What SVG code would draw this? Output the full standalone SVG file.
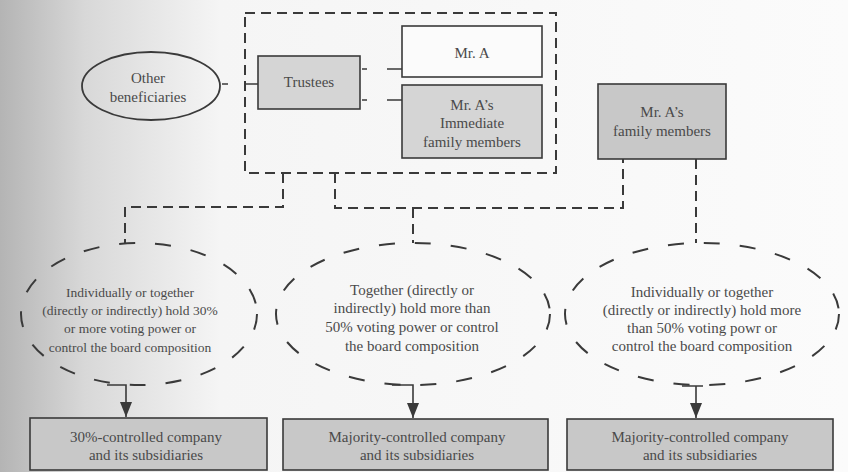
<svg xmlns="http://www.w3.org/2000/svg" width="848" height="472" viewBox="0 0 848 472">
  <defs>
    <linearGradient id="bg" x1="0" y1="0" x2="1" y2="0">
      <stop offset="0" stop-color="#b4b4b4"/>
      <stop offset="0.1" stop-color="#d8d8d8"/>
      <stop offset="0.26" stop-color="#f5f5f5"/>
      <stop offset="1" stop-color="#fbfbfb"/>
    </linearGradient>
    <marker id="arr" viewBox="0 0 15 12" refX="15" refY="6" markerWidth="15" markerHeight="12" markerUnits="userSpaceOnUse" orient="auto">
      <path d="M0,0 L15,6 L0,12 z" fill="#3a3a3a"/>
    </marker>
    <style>
      text { font-family: "Liberation Serif", "DejaVu Serif", serif; font-size: 15px; fill: #4a4a4a; text-anchor: middle; }
      .small { font-size: 13.5px; }
      .box { stroke: #3a3a3a; stroke-width: 1.6; }
      .grey { fill: #d5d5d5; }
      .dark { fill: #c8c8c8; }
      .white { fill: #fbfbfb; }
      .dash { fill: none; stroke: #3a3a3a; stroke-width: 2; stroke-dasharray: 10 6; }
      .oval { fill: none; stroke: #3a3a3a; stroke-width: 2; stroke-dasharray: 16 20; }
      .solid { fill: none; stroke: #3a3a3a; stroke-width: 1.6; }
    </style>
  </defs>

  <rect x="0" y="0" width="848" height="472" fill="url(#bg)"/>

  <g id="trust-group">
    <rect x="245" y="13" width="311" height="160" class="dash"/>
  </g>

  <g id="other-beneficiaries">
    <ellipse cx="151" cy="86" rx="69" ry="34" fill="none" stroke="#3a3a3a" stroke-width="1.8"/>
    <text x="148" y="83" font-family="Liberation Serif, serif">Other</text>
    <text x="148" y="102" font-family="Liberation Serif, serif">beneficiaries</text>
  </g>

  <g id="trustees">
    <rect x="258" y="56" width="102" height="53" class="box grey"/>
    <text x="309" y="87">Trustees</text>
  </g>

  <g id="mr-a">
    <rect x="402" y="26" width="140" height="51" class="box white"/>
    <text x="472" y="58">Mr. A</text>
  </g>

  <g id="mr-a-immediate-family">
    <rect x="402" y="85" width="140" height="73" class="box grey"/>
    <text x="472" y="110">Mr. A’s</text>
    <text x="472" y="128">Immediate</text>
    <text x="472" y="147">family members</text>
  </g>

  <g id="mr-a-family-members">
    <rect x="598" y="84" width="128" height="75" class="box dark"/>
    <text x="662" y="117">Mr. A’s</text>
    <text x="662" y="136">family members</text>
  </g>

  <g id="condition-30">
    <ellipse cx="139" cy="314" rx="118" ry="71" class="oval"/>
    <text class="small" x="130" y="297">Individually or together</text>
    <text class="small" x="130" y="315">(directly or indirectly) hold 30%</text>
    <text class="small" x="130" y="333">or more voting power or</text>
    <text class="small" x="130" y="352">control the board composition</text>
  </g>

  <g id="condition-together-50">
    <ellipse cx="413" cy="314" rx="137" ry="71" class="oval"/>
    <text x="412" y="295">Together (directly or</text>
    <text x="412" y="313">indirectly) hold more than</text>
    <text x="412" y="332">50% voting power or control</text>
    <text x="412" y="351">the board composition</text>
  </g>

  <g id="condition-family-50">
    <ellipse cx="702" cy="314" rx="137" ry="71" class="oval"/>
    <text x="702" y="297">Individually or together</text>
    <text x="702" y="315">(directly or indirectly) hold more</text>
    <text x="702" y="333">than 50% voting powr or</text>
    <text x="702" y="351">control the board composition</text>
  </g>

  <g id="company-30">
    <rect x="30" y="418" width="237" height="52" class="box dark"/>
    <text x="146" y="442">30%-controlled company</text>
    <text x="146" y="460">and its subsidiaries</text>
  </g>

  <g id="company-majority-1">
    <rect x="283" y="419" width="265" height="51" class="box dark"/>
    <text x="417" y="442">Majority-controlled company</text>
    <text x="417" y="460">and its subsidiaries</text>
  </g>

  <g id="company-majority-2">
    <rect x="567" y="419" width="266" height="51" class="box dark"/>
    <text x="700" y="442">Majority-controlled company</text>
    <text x="700" y="460">and its subsidiaries</text>
  </g>

  <g id="connectors">
    <line x1="220" y1="84" x2="258" y2="84" class="solid" stroke-dasharray="0 2 6 17 13"/>
    <line x1="360" y1="69" x2="402" y2="69" class="solid" stroke-dasharray="0 2 5 20 15"/>
    <line x1="360" y1="100" x2="402" y2="100" class="solid" stroke-dasharray="0 2 5 20 15"/>
    <path d="M283,173 V207 H125 V243" class="dash"/>
    <path d="M335,173 V208 H623 V159" class="dash"/>
    <path d="M413,208 V243" class="dash"/>
    <path d="M696,159 V243" class="dash"/>
    <path d="M107,385 H126 V417" class="solid" marker-end="url(#arr)"/>
    <path d="M392,385 H413 V418" class="solid" marker-end="url(#arr)"/>
    <path d="M682,386 H703 M696,386 V418" class="solid" marker-end="url(#arr)"/>
  </g>
</svg>
